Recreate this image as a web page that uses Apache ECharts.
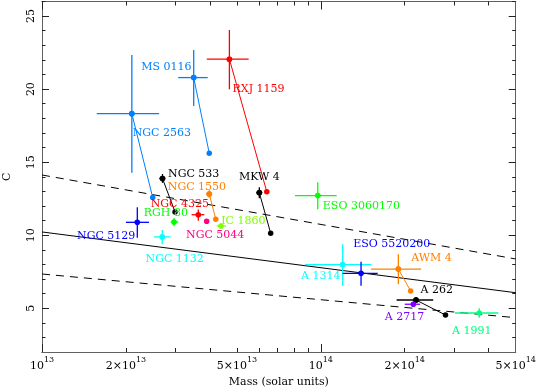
<!DOCTYPE html>
<html>
<head>
<meta charset="utf-8">
<script src="https://cdn.jsdelivr.net/npm/echarts@6/dist/echarts.min.js"></script>
<style>html,body{margin:0;padding:0;background:#fff;}#c{width:538px;height:387px;}</style>
</head>
<body>
<div id="c"></div>
<script>
// ---- data ----
const clusters = ['NGC 2563','MS 0116','RXJ 1159','NGC 533','NGC 1550','NGC 4325','RGH 80','NGC 5044','IC 1860','MKW 4',
  'ESO 3060170','NGC 5129','NGC 1132','A 1314','ESO 5520200','AWM 4','A 262','A 2717','A 1991'];
const massMain = [2.10e13,3.50e13,4.70e13,2.705e13,3.98e13,3.636e13,2.975e13,3.896e13,4.385e13,6.018e13,
  9.75e13,2.197e13,2.70e13,1.198e14,1.394e14,1.897e14,2.195e14,2.147e14,3.70e14];
const massLo = [1.571e13,3.08e13,3.90e13,2.635e13,3.88e13,3.44e13,2.894e13,3.83e13,4.233e13,5.87e13,
  8.08e13,2.0e13,2.52e13,8.78e13,1.198e14,1.514e14,1.87e14,2.00e14,3.03e14];
const massHi = [2.63e13,3.93e13,5.51e13,2.768e13,4.08e13,3.82e13,3.083e13,3.96e13,4.57e13,6.17e13,
  1.14e14,2.42e13,2.89e13,1.52e14,1.60e14,2.29e14,2.53e14,2.27e14,4.33e14];
const cMain = [18.32,20.79,22.05,13.88,12.82,11.40,10.90,10.95,10.63,12.91,
  12.71,10.88,9.88,7.98,7.39,7.68,5.56,5.27,4.67];
const cLo = [14.28,18.85,19.99,13.58,12.57,10.99,10.61,10.80,10.46,12.53,
  11.77,9.83,9.38,6.54,6.54,6.64,5.35,5.10,4.35];
const cHi = [22.34,22.68,24.05,14.19,13.08,11.75,11.18,11.10,10.80,13.28,
  13.62,11.91,10.36,9.38,8.18,8.69,5.77,5.44,4.99];
// second (connected) point per cluster, null where none
const massSecond = [2.495e13,3.98e13,6.40e13,3.0e13,4.20e13,null,null,null,null,6.61e13,
  null,null,null,null,null,2.10e14,2.80e14,null,null];
const cSecond = [12.58,15.61,12.98,11.59,11.09,null,null,null,null,10.13,
  null,null,null,null,null,6.18,4.53,null,null];
// relation lines
const fitMass = [1e13,5e14];
const fitC = [10.22,6.06];
const fitCUpper = [14.12,8.37];
const fitCLower = [7.34,4.35];
// axis ticks
const xTickMass = [1e13,2e13,5e13,1e14,2e14,5e14];
const xTickMantissa = ['','2×','5×','','2×','5×'];
const xTickExp = ['13','13','13','14','14','14'];
const xMinorMass = [2e13,3e13,4e13,5e13,6e13,7e13,8e13,9e13,2e14,3e14,4e14];
const xMajorMass = [1e13,1e14];
const yTicks = [5,10,15,20,25];
const yMinorTicks = [3,4,6,7,8,9,11,12,13,14,16,17,18,19,21,22,23,24,26];

// ---- style / layout ----
const colors = ['#0080ff','#0080ff','#ff0000','#000000','#ff8000','#ff0000','#00ff00','#ff0080','#80ff00','#000000',
  '#00ff00','#0000ff','#00ffff','#00ffff','#0000ff','#ff8000','#000000','#8000ff','#00ff80'];
const labelOffsets = [[30,19.3],[-27.4,-10.7],[29.2,29.7],[31.2,-4],[-12.3,-7.3],[-18.5,-11],[-8.2,-8.7],[8.5,14.3],[22.3,-5.3],[0,-16],
  [43.6,10.3],[-31.1,13.4],[12.4,22],[-21.9,11],[30.7,-29.3],[33.2,-11],[20.7,-9.7],[-8.9,12.4],[-7.5,18]];
const FONT = 'DejaVu Serif';
const lg = Math.log10;
const XMIN = 13, XMAX = lg(5e14);

const frame = '#606060';
function xAx(pos, tickVals, len, labelVals){
  return {type:'value', min:XMIN, max:XMAX, position:pos, gridIndex:0,
    axisLine:{show:true, lineStyle:{color:frame, width:1}},
    splitLine:{show:false},
    axisTick:{show:true, inside:true, length:len, customValues:tickVals, lineStyle:{color:'#222', width:1}},
    axisLabel: labelVals ? {show:true, customValues:labelVals, margin:4, fontFamily:FONT, color:'#000',
      formatter:function(v){
        let i=0, best=1e9;
        for(let k=0;k<xTickMass.length;k++){const d=Math.abs(lg(xTickMass[k])-v); if(d<best){best=d;i=k;}}
        return '{b|'+xTickMantissa[i]+'10}{s|'+xTickExp[i]+'}';
      },
      rich:{b:{fontFamily:FONT,fontSize:11,color:'#000',lineHeight:16,verticalAlign:'bottom'},
            s:{fontFamily:FONT,fontSize:8,color:'#000',lineHeight:16,verticalAlign:'top'}}} : {show:false}
  };
}
function yAx(pos, vals, len, labels){
  return {type:'value', min:2, max:26, position:pos, gridIndex:0,
    axisLine:{show:true, lineStyle:{color:frame, width:1}},
    splitLine:{show:false},
    axisTick:{show:true, inside:true, length:len, customValues:vals, lineStyle:{color:'#222', width:1}},
    axisLabel: labels ? {show:true, customValues:vals, rotate:90, margin:5, fontFamily:FONT, fontSize:11, color:'#000'} : {show:false}
  };
}
const xMajorLog = xMajorMass.map(lg), xMinorLog = xMinorMass.map(lg);
const xAxes = [xAx('bottom', xMajorLog, 8, xTickMass.map(lg)), xAx('bottom', xMinorLog, 4, null),
  xAx('top', xMajorLog, 8, null), xAx('top', xMinorLog, 4, null)];
xAxes[0].name = 'Mass (solar units)';
xAxes[0].nameLocation = 'middle';
xAxes[0].nameGap = 19;
xAxes[0].nameTextStyle = {fontFamily:FONT, fontSize:11, color:'#000'};
const yAxes = [yAx('left', yTicks, 7, true), yAx('left', yMinorTicks, 3.5, false), yAx('right', yTicks, 7, false), yAx('right', yMinorTicks, 3.5, false)];
yAxes[0].name = 'C';
yAxes[0].nameLocation = 'middle';
yAxes[0].nameRotate = 90;
yAxes[0].nameGap = 29;
yAxes[0].nameTextStyle = {fontFamily:FONT, fontSize:11, color:'#000'};

const series = [];
// relation lines
[[fitC,'solid'],[fitCUpper,[8,6]],[fitCLower,[8,6]]].forEach(function(f){
  series.push({type:'line', xAxisIndex:0, yAxisIndex:0, symbol:'none', silent:true,
    data: fitMass.map((m,i)=>[lg(m), f[0][i]]),
    lineStyle:{color:'#000', width:1, type:f[1]}, z:1});
});
// connecting lines to second points
clusters.forEach(function(name,i){
  if(massSecond[i]===null) return;
  series.push({type:'line', xAxisIndex:0, yAxisIndex:0, symbol:'circle', symbolSize:5.5, silent:true,
    data:[[lg(massMain[i]), cMain[i]],[lg(massSecond[i]), cSecond[i]]],
    itemStyle:{color:colors[i]}, lineStyle:{color:colors[i], width:1}, z:2});
});
// error bars + points + labels
series.push({type:'custom', xAxisIndex:0, yAxisIndex:0, z:3,
  data: clusters.map((n,i)=>[lg(massMain[i]), cMain[i], lg(massLo[i]), lg(massHi[i]), cLo[i], cHi[i], i]),
  encode:{x:0, y:1},
  renderItem:function(params, api){
    const i = api.value(6);
    const col = colors[i];
    const p = api.coord([api.value(0), api.value(1)]);
    const xl = api.coord([api.value(2), api.value(1)]);
    const xh = api.coord([api.value(3), api.value(1)]);
    const yl = api.coord([api.value(0), api.value(4)]);
    const yh = api.coord([api.value(0), api.value(5)]);
    const off = labelOffsets[i];
    return {type:'group', children:[
      {type:'line', shape:{x1:xl[0], y1:p[1], x2:xh[0], y2:p[1]}, style:{stroke:col, lineWidth:1.3}},
      {type:'line', shape:{x1:p[0], y1:yl[1], x2:p[0], y2:yh[1]}, style:{stroke:col, lineWidth:1.3}},
      {type:'circle', shape:{cx:p[0], cy:p[1], r:2.8}, style:{fill:col}},
      {type:'text', x:p[0]+off[0], y:p[1]+off[1], style:{text:clusters[i], fill:col, font:'11px "DejaVu Serif"', align:'center', verticalAlign:'middle'}}
    ]};
  }
});

const chart = echarts.init(document.getElementById('c'), null, {renderer:'canvas'});
chart.setOption({
  animation:false,
  backgroundColor:'#fff',
  grid:{left:42, right:22.3, top:1.5, bottom:35, containLabel:false, outerBoundsMode:'none'},
  xAxis:xAxes,
  yAxis:yAxes,
  series:series
});
</script>
</body>
</html>
